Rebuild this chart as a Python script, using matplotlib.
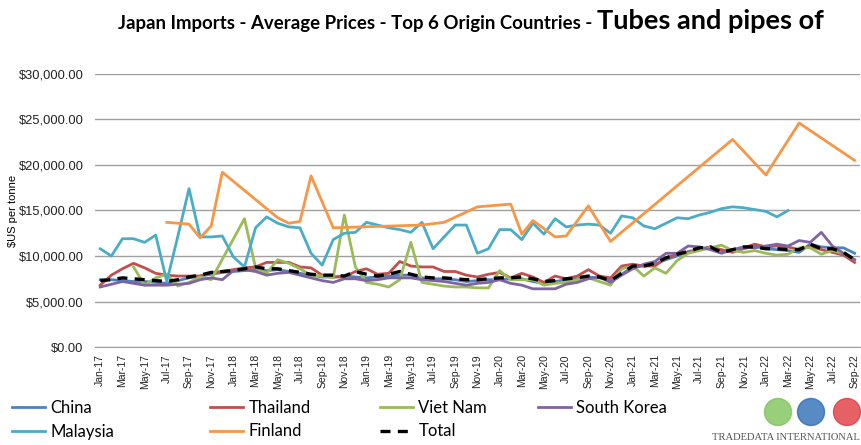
"""
Japan imports - average prices of tubes and pipes, top 6 origin countries.
"""

import matplotlib
matplotlib.use("Agg")
import matplotlib.pyplot as plt
import numpy as np
from matplotlib import font_manager
from matplotlib.patches import Circle
from matplotlib.ticker import FuncFormatter

nan = np.nan

MONTHS = [f"{m}-{y}" for y in range(17, 23)
          for m in ["Jan", "Feb", "Mar", "Apr", "May", "Jun",
                    "Jul", "Aug", "Sep", "Oct", "Nov", "Dec"]][:69]

# valores en miles de US$ por tonelada
china = [7.4, 7.4, 7.3, 7.2, 7.2, 7.1, 7.0, 7.3, 7.6, 7.8, 8.0, 8.2, 8.3, 8.4,
         8.5, 8.4, 8.5, 8.3, 8.1, 7.9, 7.7, 7.7, 7.8, 7.7, 7.6, 7.7, 7.8, 7.9,
         7.9, 7.6, 7.5, 7.5, 7.4, 7.2, 7.3, 7.4, 7.4, 7.5, 7.5, 7.2, 7.0, 7.2,
         7.4, 7.5, 7.7, 7.6, 7.3, 8.0, 8.8, 8.9, 9.1, 9.6, 10.0, 10.5, 10.7,
         11.0, 10.6, 10.5, 10.8, 11.1, 10.8, 10.7, 10.6, 10.4, 11.3, 11.0,
         10.9, 10.9, 10.3]
thailand = [6.8, 7.9, 8.6, 9.2, 8.7, 8.1, 7.9, 7.8, 7.8, 7.8, 8.2, 8.3, 8.5,
            8.7, 8.8, 9.3, 9.3, 9.3, 8.8, 8.7, 7.9, 7.7, 7.7, 8.3, 8.6, 8.0,
            8.1, 9.4, 8.9, 8.8, 8.8, 8.3, 8.3, 7.9, 7.7, 8.0, 8.2, 7.6, 8.1,
            7.7, 7.1, 7.8, 7.5, 7.8, 8.5, 7.8, 7.6, 8.9, 9.1, 8.9, 8.9, 9.8,
            10.2, 10.4, 10.7, 11.0, 10.7, 10.4, 10.9, 11.3, 11.0, 11.1, 11.0,
            10.7, 11.1, 10.7, 10.4, 10.1, 9.3]
viet_nam = [nan, nan, nan, 8.8, 6.8, 7.6, 8.0, 6.7, 7.1, 7.7, 7.4, nan, nan,
            14.1, 8.7, 8.1, 9.6, 9.2, 8.6, 7.9, 7.8, 7.6, 14.5, 8.8, 7.1, 6.9,
            6.6, 7.4, 11.5, 7.1, 6.9, 6.7, 6.6, 6.6, 6.5, 6.5, 8.4, 7.4, 7.4,
            7.4, 6.8, 7.0, 7.1, 7.4, 7.6, 7.2, 6.8, 8.6, 8.9, 7.8, 8.7, 8.1,
            9.5, 10.3, 10.6, 10.9, 11.2, 10.6, 10.4, 10.6, 10.3, 10.1, 10.2,
            10.9, 10.9, 10.2, 10.6, 10.3, 9.6]
south_korea = [6.6, 6.9, 7.2, 7.0, 6.8, 6.8, 6.8, 6.9, 7.0, 7.4, 7.6, 7.4,
               8.4, 8.5, 8.3, 7.9, 8.1, 8.2, 7.9, 7.6, 7.3, 7.1, 7.5, 7.5,
               7.3, 7.4, 7.6, 7.6, 7.6, 7.4, 7.3, 7.2, 7.0, 6.8, 7.0, 7.1,
               7.4, 7.0, 6.8, 6.4, 6.4, 6.4, 6.9, 7.1, 7.5, 7.7, 7.1, 7.9,
               8.6, 9.1, 9.4, 10.3, 10.3, 11.1, 11.0, 10.7, 10.3, 10.7, 11.0,
               10.9, 11.1, 11.3, 11.1, 11.7, 11.5, 12.6, 11.1, 10.3, 9.6]
malaysia = [10.8, 10.0, 11.9, 11.9, 11.5, 12.3, 7.2, 12.2, 17.4, 12.1, 12.1,
            12.2, 9.9, 8.8, 13.1, 14.3, 13.6, 13.2, 13.1, 10.3, 9.0, 11.8,
            12.5, 12.6, 13.7, 13.4, 13.1, 12.9, 12.6, 13.7, 10.8, 12.1, 13.4,
            13.4, 10.3, 10.8, 12.9, 12.9, 11.8, 13.6, 12.4, 14.1, 13.2, 13.4,
            13.5, 13.4, 12.5, 14.4, 14.2, 13.3, 13.0, 13.6, 14.2, 14.1, 14.5,
            14.8, 15.2, 15.4, 15.3, 15.1, 14.9, 14.3, 15.0,
            nan, nan, nan, nan, nan, nan]
finland = [nan, nan, nan, nan, nan, nan, 13.7, 13.6, 13.5, 12.0, 13.3, 19.2,
           nan, nan, nan, nan, 14.2, 13.6, 13.8, 18.8, nan, 13.1, nan, nan,
           nan, nan, nan, nan, nan, 13.4, nan, 13.7, nan, nan, 15.4, nan, nan,
           15.7, 12.4, 13.9, nan, 12.1, 12.2, nan, 15.5, nan, 11.6, nan, nan,
           nan, nan, nan, nan, nan, nan, nan, nan, 22.8, nan, nan, 18.9, nan,
           nan, 24.6, nan, nan, nan, nan, 20.5]
total = [7.3, 7.4, 7.6, 7.5, 7.4, 7.3, 7.2, 7.4, 7.7, 7.9, 8.2, 8.3, 8.4, 8.6,
         8.8, 8.6, 8.6, 8.4, 8.2, 8.0, 7.9, 7.9, 7.8, 8.3, 8.0, 7.8, 8.0, 8.3,
         8.0, 7.7, 7.6, 7.6, 7.5, 7.4, 7.4, 7.5, 7.6, 7.6, 7.7, 7.5, 7.2, 7.3,
         7.5, 7.6, 7.8, 7.7, 7.3, 8.1, 8.9, 8.9, 9.2, 9.8, 10.2, 10.5, 10.9,
         11.0, 10.4, 10.7, 11.0, 11.0, 10.8, 10.8, 10.7, 10.7, 11.3, 10.8,
         10.8, 10.4, 9.6]

SERIES = [
    ("China", china, "#4F81BD", "-"),
    ("Thailand", thailand, "#C0504D", "-"),
    ("Viet Nam", viet_nam, "#9BBB59", "-"),
    ("South Korea", south_korea, "#8064A2", "-"),
    ("Malaysia", malaysia, "#4BACC6", "-"),
    ("Finland", finland, "#F79646", "-"),
    ("Total", total, "black", "--"),
]

installed = {f.name for f in font_manager.fontManager.ttflist}
LEG_FONT = "Liberation Sans Narrow" if "Liberation Sans Narrow" in installed else "Lato"

fig = plt.figure(figsize=(8.61, 4.45), dpi=100)
ax = fig.add_axes([0.110, 0.220, 0.889, 0.614])
W, H = fig.bbox.width, fig.bbox.height

x = np.arange(len(MONTHS))
handles = {}
for name, vals, color, ls in SERIES:
    v = np.array(vals, dtype=float) * 1000
    ok = ~np.isnan(v)  # une los puntos a través de los huecos, como Excel
    if ls == "--":
        (h,) = ax.plot(x[ok], v[ok], color=color, lw=2.4, ls=(0, (3, 2.2)), zorder=5)
    else:
        (h,) = ax.plot(x[ok], v[ok], color=color, lw=2.0, solid_joinstyle="round")
    handles[name] = h

ax.set_xlim(-0.5, len(MONTHS) - 0.5)
ax.set_ylim(0, 30000)
ax.set_yticks(np.arange(0, 30001, 5000))
ax.yaxis.set_major_formatter(FuncFormatter(lambda v, _: f"${v:,.2f}"))
ax.set_xticks(x[::2])
ax.set_xticklabels(MONTHS[::2], rotation=90, fontsize=7.5,
                   fontfamily="Liberation Sans")
for lab in ax.get_yticklabels():
    lab.set_fontfamily("Liberation Sans")
    lab.set_fontsize(9.3)
ax.tick_params(axis="x", length=0, pad=5, colors="#222222")
ax.tick_params(axis="y", length=0, pad=8, colors="#222222")
ax.grid(axis="y", color="#A0A0A0", lw=1.0)
ax.set_axisbelow(True)
for side in ["top", "right", "left"]:
    ax.spines[side].set_visible(False)
ax.spines["bottom"].set_color("#A0A0A0")
ax.set_ylabel("$US per tonne", fontsize=8, fontfamily="Liberation Sans")
ax.yaxis.set_label_coords(-0.100, 0.5)

# título en dos tamaños
t1 = fig.text(118 / W, 1 - 29 / H,
              "Japan Imports - Average Prices - Top 6 Origin Countries - ",
              fontsize=13.4, fontweight="bold", fontfamily="Lato", va="baseline")
fig.canvas.draw()
bb = t1.get_window_extent()
fig.text(bb.x1 / W, 1 - 29 / H, "Tubes and pipes of", fontsize=19.5,
         fontweight="bold", fontfamily="Lato", va="baseline")

# leyenda: una columna por grupo, como en Excel
columns = [(12, ["China", "Malaysia"]), (210, ["Thailand", "Finland"]),
           (380, ["Viet Nam", "Total"]), (538, ["South Korea"])]
for px, names in columns:
    fig.legend([handles[n] for n in names], names, loc="upper left",
               bbox_to_anchor=(px / W, 1 - 400 / H), frameon=False,
               prop={"family": LEG_FONT, "size": 12}, handlelength=2.0,
               handletextpad=0.3, labelspacing=0.45, borderaxespad=0,
               borderpad=0)

# logo
for cx, col in [(778, "#7DC35A"), (811, "#2E6DB4"), (847, "#E0393E")]:
    fig.patches.append(Circle((cx, H - 412), 13.5, transform=None,
                              color=col, alpha=0.8))
fig.text(712 / W, 1 - 440 / H, "TRADEDATA INTERNATIONAL", fontsize=7.6,
         fontfamily="Liberation Serif", color="#555555", va="baseline")

fig.savefig("out.png", dpi=100)
